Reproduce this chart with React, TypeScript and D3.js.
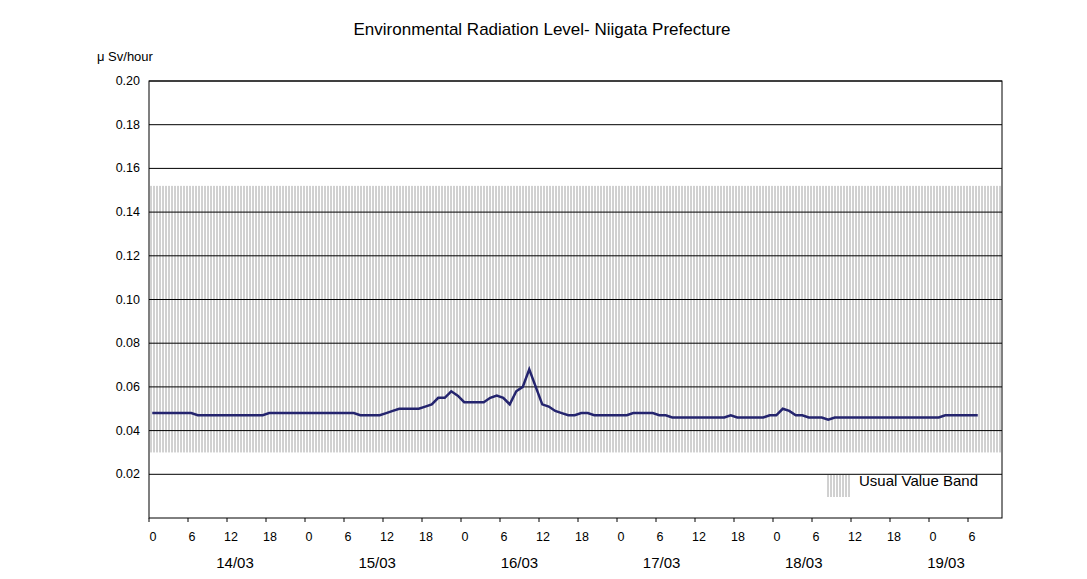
import React from "react";
import * as d3 from "d3";

const title = "Environmental Radiation Level- Niigata Prefecture";
const unitLabel = "μ Sv/hour";
const dayLabels = ["14/03", "15/03", "16/03", "17/03", "18/03", "19/03"];
const hourTickLabels = ["0", "6", "12", "18"];
const yTicks = [0.02, 0.04, 0.06, 0.08, 0.1, 0.12, 0.14, 0.16, 0.18, 0.2];
const bandLow = 0.03;
const bandHigh = 0.152;
// hourly readings starting 14/03 0h
const values: number[] = [
  0.048, 0.048, 0.048, 0.048, 0.048, 0.048, 0.048, 0.047, 0.047, 0.047,
  0.047, 0.047, 0.047, 0.047, 0.047, 0.047, 0.047, 0.047, 0.048, 0.048,
  0.048, 0.048, 0.048, 0.048, 0.048, 0.048, 0.048, 0.048, 0.048, 0.048,
  0.048, 0.048, 0.047, 0.047, 0.047, 0.047, 0.048, 0.049, 0.050, 0.050,
  0.050, 0.050, 0.051, 0.052, 0.055, 0.055, 0.058, 0.056, 0.053, 0.053,
  0.053, 0.053, 0.055, 0.056, 0.055, 0.052, 0.058, 0.060, 0.068, 0.060,
  0.052, 0.051, 0.049, 0.048, 0.047, 0.047, 0.048, 0.048, 0.047, 0.047,
  0.047, 0.047, 0.047, 0.047, 0.048, 0.048, 0.048, 0.048, 0.047, 0.047,
  0.046, 0.046, 0.046, 0.046, 0.046, 0.046, 0.046, 0.046, 0.046, 0.047,
  0.046, 0.046, 0.046, 0.046, 0.046, 0.047, 0.047, 0.050, 0.049, 0.047,
  0.047, 0.046, 0.046, 0.046, 0.045, 0.046, 0.046, 0.046, 0.046, 0.046,
  0.046, 0.046, 0.046, 0.046, 0.046, 0.046, 0.046, 0.046, 0.046, 0.046,
  0.046, 0.046, 0.047, 0.047, 0.047, 0.047, 0.047, 0.047,
];

const L = 149, R = 1002, T = 81, B = 518;
const font = "'Liberation Sans', Arial, sans-serif";

export default function App() {
  const x = d3.scaleLinear().domain([0, 131.23]).range([L, R]);
  const y = d3.scaleLinear().domain([0, 0.2]).range([B, T]);
  const dayX = d3.scaleLinear().domain([0, 5]).range([235, 946]);
  const line = d3.line<number>().x((_, i) => x(i + 0.5)).y((v) => y(v));
  const hatch: number[] = d3.range(L + 2, R + 1, 3);
  const legHatch: number[] = d3.range(828, 851, 3);
  const hourTicks = d3.range(0, 131, 6);
  return (
    <svg width={1087} height={579} style={{ position: "absolute", left: 0, top: 0, background: "#fff" }} fontFamily={font}>
      <text x={542} y={35} textAnchor="middle" fontSize={17}>{title}</text>
      <text x={97} y={61} fontSize={13}>{unitLabel}</text>
      {hatch.map((hx) => (
        <line key={hx} x1={hx} x2={hx} y1={y(bandHigh)} y2={y(bandLow)} stroke="#8c8c8c" strokeWidth={0.8} />
      ))}
      {yTicks.map((t) => (
        <g key={t}>
          <line x1={L} x2={R} y1={y(t)} y2={y(t)} stroke="#000" strokeWidth={1} />
          <text x={140} y={y(t) + 4} textAnchor="end" fontSize={12.5}>{t.toFixed(2)}</text>
        </g>
      ))}
      <rect x={L} y={T} width={R - L} height={B - T} fill="none" stroke="#000" strokeWidth={1} />
      <path d={line(values) || ""} fill="none" stroke="#24246e" strokeWidth={2.5} />
      {hourTicks.map((h, i) => (
        <g key={h}>
          <line x1={x(h)} x2={x(h)} y1={B} y2={B + 4} stroke="#000" />
          <text x={x(h) + 4} y={541} textAnchor="middle" fontSize={12.5}>{hourTickLabels[i % 4]}</text>
        </g>
      ))}
      {dayLabels.map((d, i) => (
        <text key={d} x={dayX(i)} y={568} textAnchor="middle" fontSize={15}>{d}</text>
      ))}
      {legHatch.map((hx) => (
        <line key={hx} x1={hx} x2={hx} y1={475} y2={497} stroke="#8c8c8c" strokeWidth={0.8} />
      ))}
      <text x={859} y={486} fontSize={15}>Usual Value Band</text>
    </svg>
  );
}
